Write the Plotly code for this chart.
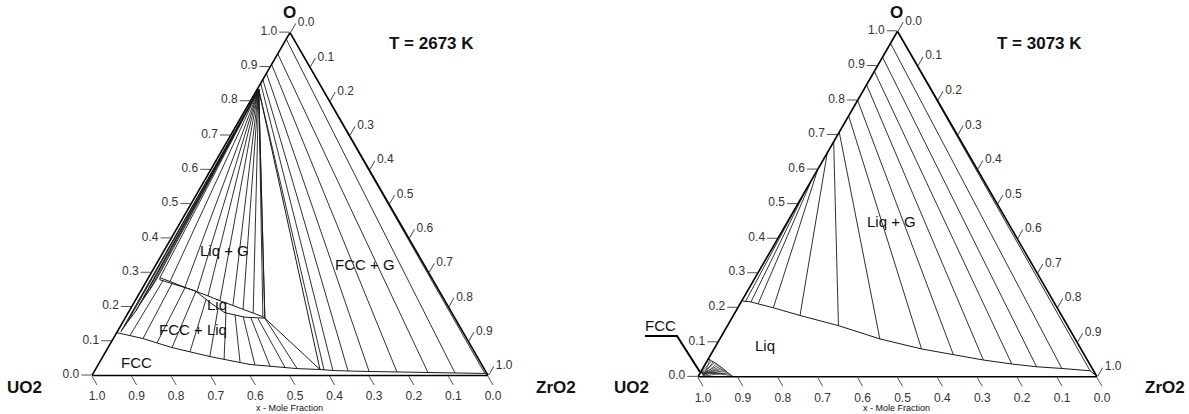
import plotly.graph_objects as go

# ---------------- tick labels (shared by all three axes) ----------------
tick_vals = [0.0, 0.1, 0.2, 0.3, 0.4, 0.5, 0.6, 0.7, 0.8, 0.9, 1.0]
tick_text = ["0.0", "0.1", "0.2", "0.3", "0.4", "0.5", "0.6", "0.7", "0.8", "0.9", "1.0"]

# ======================= LEFT: T = 2673 K ================================
# compositions given as (O fraction, ZrO2 fraction); UO2 = 1 - O - ZrO2
L_gas_O, L_gas_Zr = 0.834, 0.004            # gas corner of the Liq+G fan

# G -> hyper-stoichiometric band near the UO2-O edge
L_band_O  = [0.128, 0.140, 0.157, 0.189, 0.205, 0.221, 0.250, 0.282]
L_band_Zr = [0.009, 0.010, 0.012, 0.017, 0.017, 0.018, 0.021, 0.023]

# upper liquid boundary (Liq / Liq+G) -> also ends of the Liq+G fan
L_liqU_O  = [0.285, 0.274, 0.257, 0.244, 0.232, 0.218, 0.204, 0.193, 0.182, 0.171, 0.167]
L_liqU_Zr = [0.029, 0.060, 0.106, 0.143, 0.177, 0.214, 0.254, 0.285, 0.316, 0.346, 0.353]

# lower liquid boundary (Liq / FCC+Liq)
L_liqL_O  = [0.285, 0.279, 0.247, 0.209, 0.183, 0.170, 0.167]
L_liqL_Zr = [0.029, 0.032, 0.137, 0.198, 0.244, 0.301, 0.353]

# FCC boundary (FCC / two-phase)
L_fcc_O  = [0.125, 0.1076, 0.0814, 0.0552, 0.032, 0.020, 0.0174, 0.0145, 0.013, 0.0116, 0.0102, 0.0087, 0.0073, 0.006, 0.003]
L_fcc_Zr = [0.000, 0.075, 0.161, 0.270, 0.383, 0.508, 0.567, 0.601, 0.640, 0.694, 0.765, 0.844, 0.913, 0.989, 0.997]

# FCC + Liq tie lines: FCC end / Liq end
L_fl_fcc_O  = [0.1166, 0.1076, 0.0951, 0.0814, 0.0689, 0.0552, 0.0471, 0.0378, 0.0308, 0.0270, 0.0233, 0.0200]
L_fl_fcc_Zr = [0.0377, 0.075, 0.1166, 0.1613, 0.213, 0.270, 0.310, 0.355, 0.396, 0.436, 0.476, 0.508]
L_fl_liq_O  = [0.2765, 0.268, 0.256, 0.2448, 0.2227, 0.197, 0.1826, 0.1766, 0.1714, 0.1683, 0.1663, 0.167]
L_fl_liq_Zr = [0.041, 0.068, 0.107, 0.140, 0.177, 0.220, 0.247, 0.273, 0.296, 0.317, 0.336, 0.353]

# three-phase triangle G - Liq - FCC
L_tri_O  = [0.834, 0.167, 0.0174, 0.834]
L_tri_Zr = [0.004, 0.353, 0.567, 0.004]

# FCC + G tie lines: gas end on the UO2-O edge / FCC end
L_fg_gas_O  = [0.834, 0.852, 0.863, 0.881, 0.907, 0.938, 0.981, 1.000]
L_fg_gas_Zr = [0.004, 0.000, 0.000, 0.000, 0.000, 0.000, 0.000, 0.000]
L_fg_fcc_O  = [0.016, 0.0145, 0.013, 0.0116, 0.0102, 0.0087, 0.0073, 0.006]
L_fg_fcc_Zr = [0.578, 0.601, 0.640, 0.694, 0.765, 0.844, 0.913, 0.989]

# ======================= RIGHT: T = 3073 K ===============================
R_liq_O  = [0.219, 0.2166, 0.211, 0.1997, 0.1773, 0.148, 0.1096, 0.0805, 0.064, 0.0485, 0.0369, 0.029, 0.024, 0.0174, 0.006]
R_liq_Zr = [0.003, 0.0245, 0.045, 0.089, 0.167, 0.278, 0.401, 0.520, 0.608, 0.691, 0.768, 0.834, 0.900, 0.974, 0.992]

# Liq + G tie lines: gas end on UO2-O edge / liquid end
R_lg_gas_O = [0.51, 0.54, 0.57, 0.60, 0.648, 0.68, 0.708, 0.755, 0.80, 0.845, 0.884, 0.925, 0.965, 1.0]
R_lg_liq_O  = [0.2185, 0.2166, 0.211, 0.1997, 0.1773, 0.148, 0.1096, 0.0805, 0.064, 0.0485, 0.0369, 0.029, 0.024, 0.0174]
R_lg_liq_Zr = [0.010, 0.0245, 0.045, 0.089, 0.167, 0.278, 0.401, 0.520, 0.608, 0.691, 0.768, 0.834, 0.900, 0.974]

# small FCC + Liq region at the UO2 corner (dense tie lines, two families)
R_fl_fcc_O  = [0.014, 0.012, 0.010, 0.008, 0.006, 0.004, 0.002, 0.000]
R_fl_fcc_Zr = [0.000, 0.002, 0.004, 0.006, 0.008, 0.010, 0.012, 0.014]
R_fl_liq_O  = [0.052, 0.046, 0.0407, 0.033, 0.026, 0.019, 0.0116, 0.000]
R_fl_liq_Zr = [0.000, 0.011, 0.022, 0.035, 0.047, 0.058, 0.069, 0.088]
R_fl2_fcc_O  = [0.000, 0.002, 0.004, 0.006, 0.008, 0.010, 0.012, 0.014]
R_fl2_fcc_Zr = [0.014, 0.012, 0.010, 0.008, 0.006, 0.004, 0.002, 0.000]
R_fl2_liq_O  = [0.049, 0.043, 0.037, 0.030, 0.022, 0.015, 0.008, 0.004]
R_fl2_liq_Zr = [0.005, 0.016, 0.028, 0.041, 0.052, 0.063, 0.075, 0.080]

LINE = "#1a1a1a"
TICK = "#555555"


def curve(O, Zr, sub, width=1.0, color=LINE):
    return go.Scatterternary(
        a=list(O), c=list(Zr), b=[1 - o - z for o, z in zip(O, Zr)],
        mode="lines", line=dict(color=color, width=width),
        subplot=sub, hoverinfo="skip", showlegend=False)


def ties(O1, Z1, O2, Z2, sub, width=0.9, color=LINE):
    a, c, b = [], [], []
    for o1, z1, o2, z2 in zip(O1, Z1, O2, Z2):
        a += [o1, o2, None]
        c += [z1, z2, None]
        b += [1 - o1 - z1, 1 - o2 - z2, None]
    return go.Scatterternary(a=a, b=b, c=c, mode="lines",
                             line=dict(color=color, width=width),
                             subplot=sub, hoverinfo="skip", showlegend=False)


fig = go.Figure()
# ---- left
nb = len(L_band_O)
fig.add_trace(ties([L_gas_O] * nb, [L_gas_Zr] * nb, L_band_O, L_band_Zr, "ternary"))
fig.add_trace(curve(L_band_O, L_band_Zr, "ternary"))
nf = len(L_liqU_O)
fig.add_trace(ties([L_gas_O] * nf, [L_gas_Zr] * nf, L_liqU_O, L_liqU_Zr, "ternary"))
fig.add_trace(curve(L_liqU_O, L_liqU_Zr, "ternary"))
fig.add_trace(curve(L_liqL_O, L_liqL_Zr, "ternary"))
fig.add_trace(curve(L_fcc_O, L_fcc_Zr, "ternary"))
fig.add_trace(ties(L_fl_fcc_O, L_fl_fcc_Zr, L_fl_liq_O, L_fl_liq_Zr, "ternary"))
fig.add_trace(curve(L_tri_O, L_tri_Zr, "ternary"))
fig.add_trace(ties(L_fg_gas_O, L_fg_gas_Zr, L_fg_fcc_O, L_fg_fcc_Zr, "ternary"))
# ---- right
fig.add_trace(curve(R_liq_O, R_liq_Zr, "ternary2"))
fig.add_trace(ties(R_lg_gas_O, [0.0] * len(R_lg_gas_O), R_lg_liq_O, R_lg_liq_Zr, "ternary2"))
fig.add_trace(ties(R_fl_fcc_O, R_fl_fcc_Zr, R_fl_liq_O, R_fl_liq_Zr, "ternary2", width=0.8, color="#333"))
fig.add_trace(ties(R_fl2_fcc_O, R_fl2_fcc_Zr, R_fl2_liq_O, R_fl2_liq_Zr, "ternary2", width=0.8, color="#333"))
fig.add_trace(curve(R_fl_liq_O, R_fl_liq_Zr, "ternary2", width=1.0, color="#222"))

axis = dict(title=dict(text=""), showgrid=False, showline=True, linecolor="black",
            linewidth=1.6, ticks="outside", ticklen=10, tickwidth=1, tickcolor=TICK,
            tickmode="array", tickvals=tick_vals, ticktext=tick_text, min=0,
            tickfont=dict(family="Arial, Liberation Sans", size=12, color="#333"))

yd = [0.08696, 0.92754]
fig.update_layout(
    width=1189, height=414, margin=dict(l=0, r=0, t=0, b=0),
    paper_bgcolor="white", plot_bgcolor="white", showlegend=False,
    font=dict(family="Arial, Liberation Sans", color="#111"),
    ternary=dict(domain=dict(x=[0.07738, 0.41043], y=yd), sum=1, bgcolor="white",
                 aaxis=axis, baxis=axis, caxis=axis),
    ternary2=dict(domain=dict(x=[0.58705, 0.92262], y=yd), sum=1, bgcolor="white",
                  aaxis=axis, baxis=axis, caxis=axis),
)


def ann(x, y, text, size=15, bold=False):
    t = f"<b>{text}</b>" if bold else text
    fig.add_annotation(x=x, y=y, xref="paper", yref="paper", text=t, showarrow=False,
                       font=dict(family="Arial, Liberation Sans", size=size, color="#111"),
                       xanchor="center", yanchor="middle")


for xo, xt, xu, xz, temp in [(0.2439, 0.3625, 0.0210, 0.4676, "T = 2673 K"),
                              (0.7544, 0.8739, 0.5315, 0.9798, "T = 3073 K")]:
    ann(xo, 0.9686, "O", 17, True)
    ann(xt, 0.8961, temp, 17, True)
    ann(xu, 0.0652, "UO2", 17, True)
    ann(xz, 0.0652, "ZrO2", 17, True)
    ann(xo, 0.0145, "x - Mole Fraction", 9)

ann(0.1884, 0.3961, "Liq + G")
ann(0.1825, 0.2657, "Liq")
ann(0.1623, 0.2029, "FCC + Liq")
ann(0.1152, 0.1256, "FCC")
ann(0.3070, 0.3623, "FCC + G")
ann(0.7502, 0.4638, "Liq + G")
ann(0.6434, 0.1643, "Liq")
ann(0.5559, 0.2126, "FCC")

fig.add_shape(type="path", xref="paper", yref="paper",
              path="M 0.5425 0.1884 L 0.5694 0.1884 L 0.5887 0.1014",
              line=dict(color="black", width=2))

fig.write_html("out.html", config={"displayModeBar": False},
               post_script="document.body.style.margin='0px';")
